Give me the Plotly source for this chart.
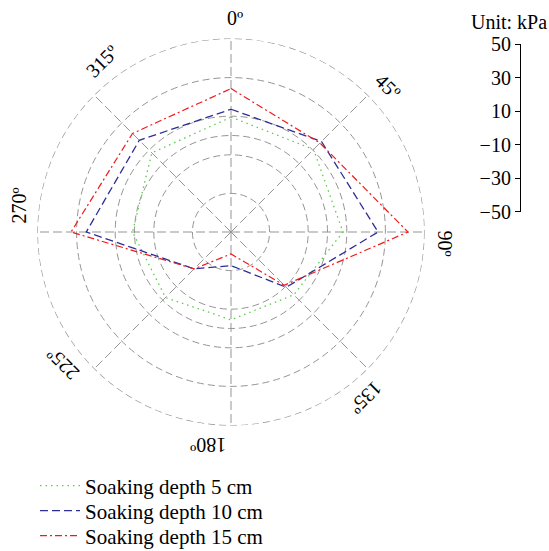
import plotly.graph_objects as go
import math

# ---- data ----
directions = [0, 45, 90, 135, 180, 225, 270, 315]
depth_5cm = [9.5, 10.5, 8, -4, -4.5, -2, 1, 8]
depth_10cm = [13.6, 16.3, 26.2, -9.5, -32.6, -23, 25, 17.2]
depth_15cm = [24.3, 15.2, 41.7, -11, -38.6, -23, 32.9, 22.2]
series_names = ["Soaking depth 5 cm", "Soaking depth 10 cm", "Soaking depth 15 cm"]
radial_ticks = [-30, -10, 0, 10, 30, 50]
scale_ticks = [-50, -30, -10, 10, 30, 50]
angle_labels = ["0º", "45º", "90º", "135º", "180º", "225º", "270º", "315º"]

W, H = 549, 551
FONT = "Liberation Serif, Times New Roman, serif"
GRID = "#959595"

fig = go.Figure()

styles = [
    dict(color="#5ccc4c", dash="1.5px,4px", width=1.3),
    dict(color="#2e2e96", dash="8px,4px", width=1.3),
    dict(color="#f01a1a", dash="7px,3px,2px,3px", width=1.2),
]
legend_ids = ["legend", "legend2", "legend3"]
for name, vals, st, lg in zip(series_names, [depth_5cm, depth_10cm, depth_15cm], styles, legend_ids):
    fig.add_trace(go.Scatterpolar(
        r=vals + vals[:1], theta=directions + directions[:1],
        mode="lines", name=name, line=st, hoverinfo="skip", legend=lg))

# scale bar axis (empty trace)
fig.add_trace(go.Scatter(x=[], y=[], xaxis="x", yaxis="y", showlegend=False))

cx, cy, R = 231, 232, 193
dom_x = [(cx - R) / W, (cx + R) / W]
dom_y = [1 - (cy + R) / H, 1 - (cy - R) / H]
legend_common = dict(x=35 / W, xanchor="left", yanchor="middle",
                     font=dict(family=FONT, size=21), bgcolor="rgba(0,0,0,0)",
                     itemwidth=40)
fig.update_layout(
    width=W, height=H,
    margin=dict(l=0, r=0, t=0, b=0, autoexpand=False),
    paper_bgcolor="white", plot_bgcolor="white",
    font=dict(family=FONT, size=20, color="black"),
    polar=dict(
        domain=dict(x=dom_x, y=dom_y),
        bgcolor="white",
        radialaxis=dict(range=[-50, 50], tickvals=radial_ticks, showticklabels=False,
                        ticks="", showline=False, gridcolor=GRID, griddash="7px,4px",
                        gridwidth=1.2),
        angularaxis=dict(rotation=90, direction="clockwise", tickvals=directions,
                         showticklabels=False, ticks="", showline=False,
                         gridcolor=GRID, griddash="9px,4px", gridwidth=1.3),
    ),
    xaxis=dict(domain=[521 / W, 522 / W], visible=False, range=[0, 1], fixedrange=True),
    yaxis=dict(domain=[1 - 211.5 / H, 1 - 44 / H], range=[-50, 50], tickvals=scale_ticks,
               showline=True, linecolor="black", linewidth=1.2, ticks="outside",
               ticklen=5, tickwidth=1.2, tickcolor="black", showgrid=False,
               zeroline=False, anchor="x", side="left", automargin=False,
               tickfont=dict(family=FONT, size=20), fixedrange=True),
    legend=dict(y=1 - 486 / H, **legend_common),
    legend2=dict(y=1 - 511 / H, **legend_common),
    legend3=dict(y=1 - 536 / H, **legend_common),
    showlegend=True,
)

# outer boundary ring of the polar frame (dashed like the grid)
fig.add_shape(type="circle", xref="paper", yref="paper",
              x0=dom_x[0], x1=dom_x[1], y0=dom_y[0], y1=dom_y[1],
              line=dict(color=GRID, width=1.2, dash="7px,4px"), layer="below")

# angular labels rotated tangentially
label_pos = [1, 47, 93, 140.7, 186, 232, 277, 323]
LR = 214
for txt, a, p in zip(angle_labels, directions, label_pos):
    t = math.radians(p)
    px = cx + LR * math.sin(t)
    py = cy - LR * math.cos(t)
    fig.add_annotation(x=px / W, y=1 - py / H, xref="paper", yref="paper",
                       text=txt, showarrow=False, textangle=a,
                       xanchor="center", yanchor="middle",
                       font=dict(family=FONT, size=20))

fig.add_annotation(x=1.0, y=1 - 22 / H, xref="paper", yref="paper", text="Unit: kPa",
                   showarrow=False, xanchor="right", yanchor="middle",
                   font=dict(family=FONT, size=20))

fig.write_html("out.html")
